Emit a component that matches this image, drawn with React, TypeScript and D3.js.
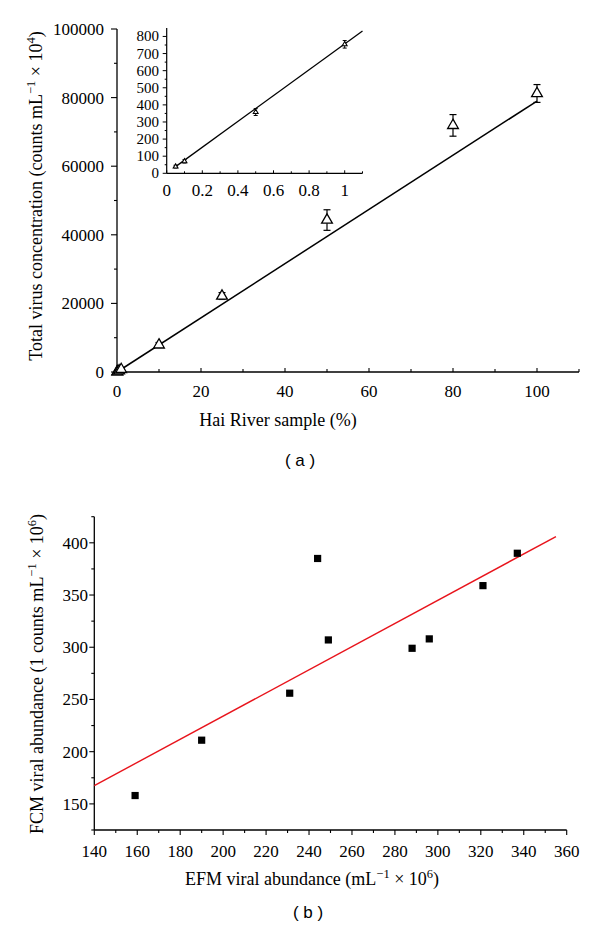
import React from "react";
import * as d3 from "d3";

// ---- Panel (a) data ----
const haiX = [0.05, 0.1, 0.5, 1, 10, 25, 50, 80, 100];
const haiY = [39, 70, 358, 754, 7900, 22150, 44300, 71900, 81200];
const haiErr = [8, 10, 20, 22, 700, 1000, 3000, 3150, 2600];
const fitAX = [0, 100];
const fitAY = [0, 79000];
const insetCount = 4;
const fitInsetX = [0.05, 1.1];
const fitInsetY = [39, 832];
const mainXTicks = [0, 20, 40, 60, 80, 100];
const mainYTicks = [0, 20000, 40000, 60000, 80000, 100000];
const insetXTicks = [0, 0.2, 0.4, 0.6, 0.8, 1];
const insetXLabels = ["0", "0.2", "0.4", "0.6", "0.8", "1"];
const insetYTicks = [0, 100, 200, 300, 400, 500, 600, 700, 800];

// ---- Panel (b) data ----
const efm = [159, 190, 231, 244, 249, 288, 296, 321, 337];
const fcm = [158, 211, 256, 385, 307, 299, 308, 359, 390];
const fitBX = [140, 355];
const fitBY = [167.5, 406];
const bXTicks = [140, 160, 180, 200, 220, 240, 260, 280, 300, 320, 340, 360];
const bYTicks = [150, 200, 250, 300, 350, 400];

const SERIF = '"Liberation Serif", "Times New Roman", Times, "DejaVu Serif", serif';
const SANS = '"Liberation Sans", Arial, Helvetica, sans-serif';

export default function App() {
  const xA = d3.scaleLinear().domain([0, 110]).range([117, 579]);
  const yA = d3.scaleLinear().domain([0, 100000]).range([372, 29]);
  const xI = d3.scaleLinear().domain([0, 1.1]).range([166.7, 362.5]);
  const yI = d3.scaleLinear().domain([0, 850]).range([173.3, 27.9]);
  const xB = d3.scaleLinear().domain([140, 360]).range([94.3, 566.7]);
  const yB = d3.scaleLinear().domain([125, 425]).range([830, 516.7]);

  const line = d3.line<[number, number]>();
  const triBig = d3.symbol(d3.symbolTriangle, 50)()!;
  const triSmall = d3.symbol(d3.symbolTriangle, 10)()!;

  const mainMinorX = d3.range(10, 111, 20);
  const mainMinorY = d3.range(10000, 100000, 20000);
  const insetMinorX = d3.range(0.1, 1.11, 0.2);
  const insetMinorY = d3.range(50, 850, 100);
  const bMinorX = d3.range(150, 360, 20);
  const bMinorY = d3.range(125, 426, 50);

  const errBar = (cx: number, y1: number, y2: number, cap: number, key: string, sw: number) => (
    <g key={key} stroke="#000" strokeWidth={sw}>
      <line x1={cx} x2={cx} y1={y1} y2={y2} />
      <line x1={cx - cap / 2} x2={cx + cap / 2} y1={y1} y2={y1} />
      <line x1={cx - cap / 2} x2={cx + cap / 2} y1={y2} y2={y2} />
    </g>
  );

  return (
    <svg
      width={600}
      height={942}
      style={{ position: "absolute", left: 0, top: 0, display: "block", background: "#fff", fontFamily: SERIF }}
    >
      {/* ===== Panel (a) main ===== */}
      <g>
        <line x1={xA(0)} x2={xA(110)} y1={yA(0)} y2={yA(0)} stroke="#000" strokeWidth={1.3} />
        <line x1={xA(0)} x2={xA(0)} y1={yA(0)} y2={yA(100000)} stroke="#000" strokeWidth={1.3} />
        {mainXTicks.map((t) => (
          <g key={"mx" + t}>
            <line x1={xA(t)} x2={xA(t)} y1={yA(0)} y2={yA(0) - 4} stroke="#000" strokeWidth={1.1} />
            <text x={xA(t)} y={397} textAnchor="middle" fontSize={17}>{t}</text>
          </g>
        ))}
        {mainMinorX.map((t) => (
          <line key={"mmx" + t} x1={xA(t)} x2={xA(t)} y1={yA(0)} y2={yA(0) - 3} stroke="#000" strokeWidth={1.1} />
        ))}
        {mainYTicks.map((t) => (
          <g key={"my" + t}>
            <line x1={xA(0) - 6} x2={xA(0)} y1={yA(t)} y2={yA(t)} stroke="#000" strokeWidth={1.1} />
            <text x={104} y={yA(t) + 6} textAnchor="end" fontSize={17}>{t}</text>
          </g>
        ))}
        {mainMinorY.map((t) => (
          <line key={"mmy" + t} x1={xA(0) - 3} x2={xA(0)} y1={yA(t)} y2={yA(t)} stroke="#000" strokeWidth={1.1} />
        ))}
        <path
          d={line(fitAX.map((x, i) => [xA(x), yA(fitAY[i])] as [number, number]))!}
          stroke="#000"
          strokeWidth={1.5}
          fill="none"
        />
        {haiX.map((x, i) => (
          <g key={"ap" + i}>
            {errBar(xA(x), yA(haiY[i] + haiErr[i]), yA(haiY[i] - haiErr[i]), 7, "ae" + i, 1.2)}
            <path d={triBig} transform={`translate(${xA(x)},${yA(haiY[i])})`} fill="#fff" stroke="#000" strokeWidth={1.3} />
          </g>
        ))}
        <text x={278} y={426} textAnchor="middle" fontSize={18}>Hai River sample (%)</text>
        <text transform="translate(42,196) rotate(-90)" textAnchor="middle" fontSize={18}>
          Total virus concentration (counts mL
          <tspan dy={-7} fontSize={12.5}>−1</tspan>
          <tspan dy={7}> × 10</tspan>
          <tspan dy={-7} fontSize={12.5}>4</tspan>
          <tspan dy={7}>)</tspan>
        </text>
        <text x={300} y={466} textAnchor="middle" fontSize={17} style={{ fontFamily: SANS }}>( a )</text>
      </g>

      {/* ===== Inset ===== */}
      <g>
        <line x1={xI(0)} x2={xI(1.1)} y1={yI(0)} y2={yI(0)} stroke="#000" strokeWidth={1.2} />
        <line x1={xI(0)} x2={xI(0)} y1={yI(0)} y2={yI(850)} stroke="#000" strokeWidth={1.2} />
        {insetXTicks.map((t, i) => (
          <g key={"ix" + t}>
            <line x1={xI(t)} x2={xI(t)} y1={yI(0)} y2={yI(0) - 3} stroke="#000" strokeWidth={1} />
            <text x={xI(t)} y={196} textAnchor="middle" fontSize={17}>{insetXLabels[i]}</text>
          </g>
        ))}
        {insetMinorX.map((t) => (
          <line key={"imx" + t} x1={xI(t)} x2={xI(t)} y1={yI(0)} y2={yI(0) - 2} stroke="#000" strokeWidth={1} />
        ))}
        {insetYTicks.map((t) => (
          <g key={"iy" + t}>
            <line x1={xI(0) - 4} x2={xI(0)} y1={yI(t)} y2={yI(t)} stroke="#000" strokeWidth={1} />
            <text x={159} y={yI(t) + 5} textAnchor="end" fontSize={15}>{t}</text>
          </g>
        ))}
        {insetMinorY.map((t) => (
          <line key={"imy" + t} x1={xI(0) - 2} x2={xI(0)} y1={yI(t)} y2={yI(t)} stroke="#000" strokeWidth={1} />
        ))}
        <path
          d={line(fitInsetX.map((x, i) => [xI(x), yI(fitInsetY[i])] as [number, number]))!}
          stroke="#000"
          strokeWidth={1.3}
          fill="none"
        />
        {haiX.slice(0, insetCount).map((x, i) => (
          <g key={"ip" + i}>
            {errBar(xI(x), yI(haiY[i] + haiErr[i]), yI(haiY[i] - haiErr[i]), 4, "ie" + i, 1)}
            <path d={triSmall} transform={`translate(${xI(x)},${yI(haiY[i])})`} fill="#fff" stroke="#000" strokeWidth={1.1} />
          </g>
        ))}
      </g>

      {/* ===== Panel (b) ===== */}
      <g>
        <line x1={xB(140)} x2={xB(360)} y1={yB(125)} y2={yB(125)} stroke="#000" strokeWidth={1.3} />
        <line x1={xB(140)} x2={xB(140)} y1={yB(125)} y2={yB(425)} stroke="#000" strokeWidth={1.3} />
        {bXTicks.map((t) => (
          <g key={"bx" + t}>
            <line x1={xB(t)} x2={xB(t)} y1={yB(125)} y2={yB(125) + 5} stroke="#000" strokeWidth={1.1} />
            <text x={xB(t)} y={857} textAnchor="middle" fontSize={17}>{t}</text>
          </g>
        ))}
        {bMinorX.map((t) => (
          <line key={"bmx" + t} x1={xB(t)} x2={xB(t)} y1={yB(125)} y2={yB(125) + 3} stroke="#000" strokeWidth={1.1} />
        ))}
        {bYTicks.map((t) => (
          <g key={"by" + t}>
            <line x1={xB(140) - 5} x2={xB(140)} y1={yB(t)} y2={yB(t)} stroke="#000" strokeWidth={1.1} />
            <text x={88} y={yB(t) + 6} textAnchor="end" fontSize={17}>{t}</text>
          </g>
        ))}
        {bMinorY.map((t) => (
          <line key={"bmy" + t} x1={xB(140) - 3} x2={xB(140)} y1={yB(t)} y2={yB(t)} stroke="#000" strokeWidth={1.1} />
        ))}
        <path
          d={line(fitBX.map((x, i) => [xB(x), yB(fitBY[i])] as [number, number]))!}
          stroke="#e8141c"
          strokeWidth={1.4}
          fill="none"
        />
        {efm.map((x, i) => (
          <rect key={"bp" + i} x={xB(x) - 3.6} y={yB(fcm[i]) - 3.6} width={7.2} height={7.2} fill="#000" />
        ))}
        <text x={312} y={885} textAnchor="middle" fontSize={18}>
          EFM viral abundance (mL
          <tspan dy={-7} fontSize={12.5}>−1</tspan>
          <tspan dy={7}> × 10</tspan>
          <tspan dy={-7} fontSize={12.5}>6</tspan>
          <tspan dy={7}>)</tspan>
        </text>
        <text transform="translate(43,674) rotate(-90)" textAnchor="middle" fontSize={18}>
          FCM viral abundance (1 counts mL
          <tspan dy={-7} fontSize={12.5}>−1</tspan>
          <tspan dy={7}> × 10</tspan>
          <tspan dy={-7} fontSize={12.5}>6</tspan>
          <tspan dy={7}>)</tspan>
        </text>
        <text x={308} y={918} textAnchor="middle" fontSize={17} style={{ fontFamily: SANS }}>( b )</text>
      </g>
    </svg>
  );
}
